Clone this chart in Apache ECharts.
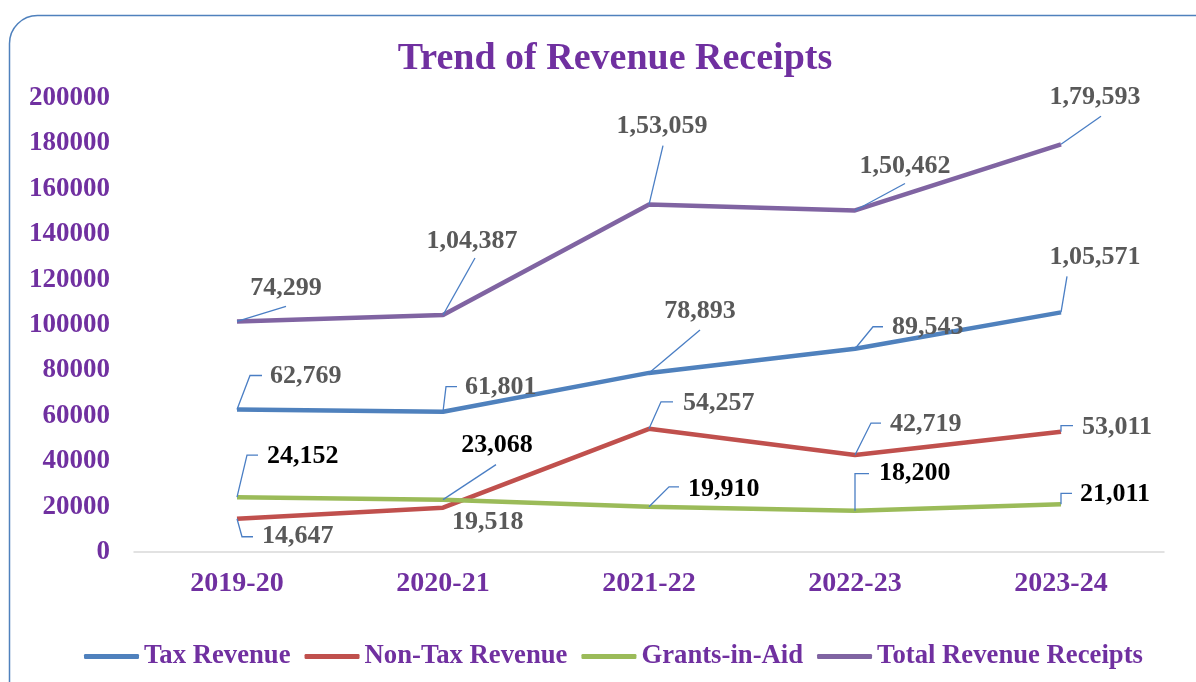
<!DOCTYPE html>
<html>
<head>
<meta charset="utf-8">
<title>Trend of Revenue Receipts</title>
<script src="https://cdn.jsdelivr.net/npm/echarts@6/dist/echarts.min.js"></script>
<style>
    html, body { margin: 0; padding: 0; background: #fff; }
    #chart { width: 1196px; height: 682px; }
</style>
</head>
<body>
<div id="chart"></div>
<script>
// data
const categories = ["2019-20", "2020-21", "2021-22", "2022-23", "2023-24"];
const yTicks = [0, 20000, 40000, 60000, 80000, 100000, 120000, 140000, 160000, 180000, 200000];
const taxRevenue = [62769, 61801, 78893, 89543, 105571];
const nonTaxRevenue = [14647, 19518, 54257, 42719, 53011];
const grantsInAid = [24152, 23068, 19910, 18200, 21011];
const totalReceipts = [101568, 104387, 153059, 150462, 179593];
// the printed labels of the total line (first one differs from the plotted point)
const totalLabels = ["74,299", "1,04,387", "1,53,059", "1,50,462", "1,79,593"];

const FONT = '"Liberation Serif", "Times New Roman", serif';
const PURPLE = "#7030A0";
const LEADER = "#4A7EC4";

// indian digit grouping, 105571 -> 1,05,571
const indian = n => {
    const s = String(n);
    if (s.length <= 3) return s;
    let head = s.slice(0, -3);
    const tail = s.slice(-3);
    head = head.replace(/\B(?=(\d{2})+(?!\d))/g, ",");
    return head + "," + tail;
};

// where each data label sits, relative to its point (px): leader path, text anchor, align
const placeTax = [
    { path: [[13, -34], [25, -34]], t: [33, -33], align: "left" },
    { path: [[3, -25], [14, -25]], t: [22, -24], align: "left" },
    { path: [[51, -43]], t: [51, -62], align: "center" },
    { path: [[18, -22], [28, -22]], t: [37, -21], align: "left" },
    { path: [[6, -36]], t: [34, -55], align: "center" },
];
const placeNonTax = [
    { path: [[5, 18], [16, 18]], t: [25, 18], align: "left" },
    { path: [], t: [9, 15], align: "left" },
    { path: [[12, -27], [24, -27]], t: [34, -26], align: "left" },
    { path: [[16, -32], [26, -32]], t: [35, -31], align: "left" },
    { path: [[0, -6], [12, -6]], t: [21, -4], align: "left" },
];
const placeGrants = [
    { path: [[10, -42], [21, -42]], t: [30, -41], align: "left" },
    { path: [[53, -35]], t: [54, -54], align: "center" },
    { path: [[20, -20], [30, -20]], t: [39, -18], align: "left" },
    { path: [[0, -37], [14, -37]], t: [24, -37], align: "left" },
    { path: [[0, -11], [11, -11]], t: [19, -10], align: "left" },
];
const placeTotal = [
    { path: [[49, -15]], t: [49, -33], align: "center" },
    { path: [[32, -57]], t: [29, -74], align: "center" },
    { path: [[14, -59]], t: [13, -78], align: "center" },
    { path: [[50, -27]], t: [50, -44], align: "center" },
    { path: [[40, -28]], t: [34, -47], align: "center" },
];

const lineSeries = (name, data, color) => ({
    name,
    type: "line",
    data,
    symbol: "none",
    lineStyle: { color, width: 4.5 },
    itemStyle: { color },
    z: 3,
});

const labelSeries = (values, texts, places, color) => ({
    type: "custom",
    coordinateSystem: "cartesian2d",
    silent: true,
    z: 5,
    data: values.map((v, i) => [i, v]),
    encode: { x: 0, y: 1 },
    renderItem: (params, api) => {
        const i = params.dataIndex;
        const p = api.coord([api.value(0), api.value(1)]);
        const pl = places[i];
        const children = [];
        if (pl.path.length) {
            children.push({
                type: "polyline",
                shape: { points: [p].concat(pl.path.map(d => [p[0] + d[0], p[1] + d[1]])) },
                style: { stroke: LEADER, lineWidth: 1.3, fill: "none" },
            });
        }
        children.push({
            type: "text",
            x: p[0] + pl.t[0],
            y: p[1] + pl.t[1],
            style: {
                text: texts[i],
                fill: color,
                font: "bold 26px " + FONT,
                align: pl.align,
                verticalAlign: "middle",
            },
        });
        return { type: "group", children };
    },
});

const chart = echarts.init(document.getElementById("chart"));
const option = {
    backgroundColor: "#fff",
    animation: false,
    graphic: [{
        type: "rect",
        shape: { x: 9.5, y: 15.5, width: 1300, height: 800, r: 28 },
        style: { fill: "none", stroke: "#4F81BD", lineWidth: 1.5 },
        z: -1,
    }],
    title: {
        text: "Trend of Revenue Receipts",
        left: 610,
        top: 35,
        textAlign: "center",
        textStyle: { color: PURPLE, fontFamily: FONT, fontWeight: "bold", fontSize: 38 },
    },
    legend: {
        data: ["Tax Revenue", "Non-Tax Revenue", "Grants-in-Aid", "Total Revenue Receipts"],
        left: 79,
        top: 638,
        itemWidth: 55,
        itemHeight: 5,
        itemGap: 14,
        icon: "roundRect",
        textStyle: { color: PURPLE, fontFamily: FONT, fontWeight: "bold", fontSize: 26.7 },
    },
    grid: { left: 134, right: 32, top: 98, bottom: 130 },
    xAxis: {
        type: "category",
        data: categories,
        axisTick: { show: false },
        axisLine: { lineStyle: { color: "#D9D9D9", width: 1.5 } },
        axisLabel: { color: PURPLE, fontFamily: FONT, fontWeight: "bold", fontSize: 28, margin: 18 },
    },
    yAxis: {
        type: "value",
        min: yTicks[0],
        max: yTicks[yTicks.length - 1],
        interval: yTicks[1] - yTicks[0],
        splitLine: { show: false },
        axisLine: { show: false },
        axisTick: { show: false },
        axisLabel: {
            color: PURPLE, fontFamily: FONT, fontWeight: "bold", fontSize: 27, margin: 24,
            formatter: v => String(v),
        },
    },
    series: [
        lineSeries("Tax Revenue", taxRevenue, "#4F81BD"),
        lineSeries("Non-Tax Revenue", nonTaxRevenue, "#C0504D"),
        lineSeries("Grants-in-Aid", grantsInAid, "#9BBB59"),
        lineSeries("Total Revenue Receipts", totalReceipts, "#8064A2"),
        labelSeries(taxRevenue, taxRevenue.map(indian), placeTax, "#595959"),
        labelSeries(nonTaxRevenue, nonTaxRevenue.map(indian), placeNonTax, "#595959"),
        labelSeries(grantsInAid, grantsInAid.map(indian), placeGrants, "#000000"),
        labelSeries(totalReceipts, totalLabels, placeTotal, "#595959"),
    ],
};
chart.setOption(option);
</script>
</body>
</html>
